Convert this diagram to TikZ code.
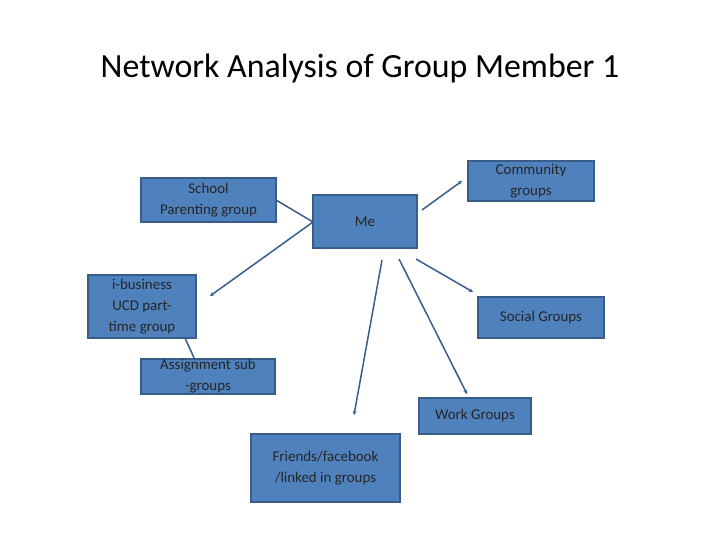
\documentclass[tikz,border=0pt]{standalone}
\usepackage{fontspec}
\setmainfont{Carlito}
\usetikzlibrary{arrows.meta}
\definecolor{boxfill}{HTML}{4F81BD}
\definecolor{boxline}{HTML}{385D8A}
\begin{document}
\begin{tikzpicture}[x=1bp,y=-1bp,
  box/.style={draw=boxline,line width=1.8pt,fill=boxfill,align=center,font=\fontsize{15}{21}\selectfont,text=black!85,inner sep=0pt},
  conn/.style={draw=boxline,line width=1.5pt},
  arr/.style={conn,-{Stealth[length=4pt,width=4pt]}}]
\useasboundingbox (0,0) rectangle (720,540);
\node (title) at (360,68) {\fontsize{34}{40}\selectfont Network Analysis of Group Member 1};
\node[box,minimum width=135bp,minimum height=44bp] (school) at (208.5,200) {School\\Parenting group};
\node[box,minimum width=104bp,minimum height=53bp] (me) at (365,221.5) {Me};
\node[box,minimum width=126bp,minimum height=40bp] (comm) at (531,181) {Community\\groups};
\node[box,minimum width=108bp,minimum height=63bp] (ibus) at (142,306.5) {i-business\\UCD part-\\time group};
\node[box,minimum width=126bp,minimum height=41bp] (social) at (541,317.5) {Social Groups};
\node[box,minimum width=134bp,minimum height=35bp] (assign) at (208,376.5) {Assignment sub\\-groups};
\node[box,minimum width=112bp,minimum height=36bp] (work) at (475,416) {Work Groups};
\node[box,minimum width=149bp,minimum height=68bp] (friends) at (325.5,468) {Friends/facebook\\/linked in groups};
\coordinate (e1) at (210,296);
\coordinate (s2) at (422,210); \coordinate (e2) at (462,181);
\coordinate (s3) at (416,259); \coordinate (e3) at (473,292);
\coordinate (s4) at (399,259); \coordinate (e4) at (467,394);
\coordinate (s5) at (382,260); \coordinate (e5) at (354,415);
\coordinate (a1) at (185,338); \coordinate (a2) at (195,360);
\coordinate (ml) at (313,222); \coordinate (sr) at (276,200);
\draw[conn] (sr) -- (ml);
\draw[arr] (ml) -- (e1);
\draw[arr] (s2) -- (e2);
\draw[arr] (s3) -- (e3);
\draw[arr] (s4) -- (e4);
\draw[arr] (s5) -- (e5);
\draw[conn] (a1) -- (a2);
\end{tikzpicture}
\end{document}
